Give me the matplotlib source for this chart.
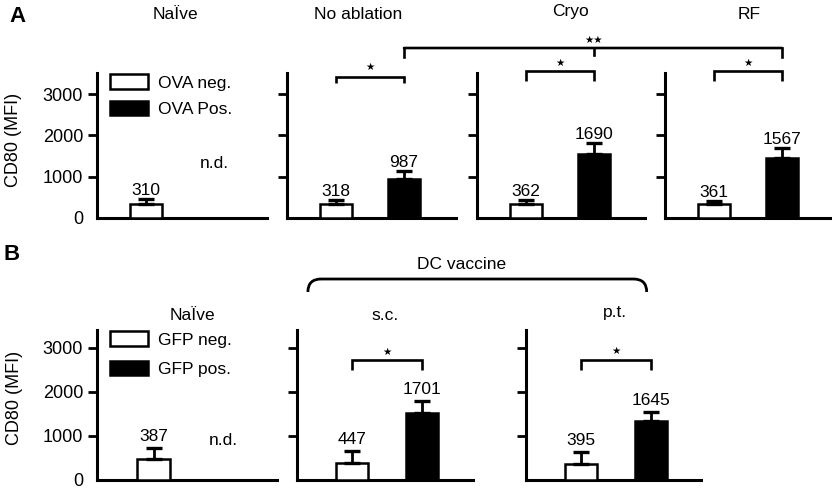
import matplotlib
matplotlib.use('Agg')
import matplotlib.pyplot as plt
from matplotlib.patches import Patch, ConnectionPatch, PathPatch
from matplotlib.path import Path

plt.rcParams['font.family'] = ['Liberation Sans', 'DejaVu Sans']

# ---------------- data ----------------
titles_a = ['NaÏve', 'No ablation', 'Cryo', 'RF']
neg_a = [350, 350, 335, 335]
neg_err_a = [110, 85, 100, 80]
pos_a = [None, 940, 1545, 1445]
pos_err_a = [None, 200, 265, 240]
neg_lab_a = ['310', '318', '362', '361']
pos_lab_a = ['n.d.', '987', '1690', '1567']
legend_a = ['OVA neg.', 'OVA Pos.']

titles_b = ['NaÏve', 's.c.', 'p.t.']
neg_b = [470, 390, 365]
neg_err_b = [265, 275, 280]
pos_b = [None, 1515, 1340]
pos_err_b = [None, 288, 212]
neg_lab_b = ['387', '447', '395']
pos_lab_b = ['n.d.', '1701', '1645']
legend_b = ['GFP neg.', 'GFP pos.']

yticks = [0, 1000, 2000, 3000]
ylabel = 'CD80 (MFI)'

# ---------------- layout (pixels) ----------------
W, H = 832, 491
fig = plt.figure(figsize=(W / 100, H / 100), dpi=100)

LW_SPINE = 2.2
LW_BAR = 1.8
FS = 12.5


def make_axes(l, r, top, base, off, scale, ymax):
    ax = fig.add_axes([l / W, 1 - base / H, (r - l) / W, (base - top) / H])
    ax.set_xlim(-off / scale, (r - l - off) / scale)
    ax.set_ylim(0, ymax)
    for s in ['top', 'right']:
        ax.spines[s].set_visible(False)
    for s in ['left', 'bottom']:
        ax.spines[s].set_linewidth(LW_SPINE)
    ax.set_xticks([])
    ax.set_yticks(yticks)
    ax.tick_params(axis='y', direction='out', length=6.5, width=2.0,
                   pad=3.5, labelsize=13)
    ax.patch.set_visible(False)
    return ax


def draw_bars(ax, neg, nerr, pos, perr, nlab, plab, lab_off, nd_y):
    ax.bar([0], [neg], width=0.47, color='white', edgecolor='black',
           linewidth=LW_BAR, yerr=[[0], [nerr]],
           error_kw=dict(ecolor='black', elinewidth=2.0, capsize=6,
                         capthick=2.4), zorder=3)
    ax.annotate(nlab, (0, neg + nerr), xytext=(0, lab_off),
                textcoords='offset points', ha='center', va='baseline',
                fontsize=FS)
    if pos is not None:
        ax.bar([1], [pos], width=0.47, color='black', edgecolor='black',
               linewidth=LW_BAR, yerr=[[0], [perr]],
               error_kw=dict(ecolor='black', elinewidth=2.0, capsize=6,
                             capthick=2.4), zorder=3)
        ax.annotate(plab, (1, pos + perr), xytext=(0, lab_off),
                    textcoords='offset points', ha='center', va='baseline',
                    fontsize=FS)
    else:
        ax.text(1, nd_y, plab, ha='center', va='center', fontsize=FS)


def bracket(ax, x0, x1, y, yb, ys, stars='★'):
    ax.plot([x0, x0, x1, x1], [yb, y, y, yb], color='black', lw=1.9,
            clip_on=False, solid_joinstyle='miter', solid_capstyle='butt')
    ax.text((x0 + x1) / 2, ys, stars, ha='center', va='center',
            fontsize=7.5, clip_on=False, family='DejaVu Sans')


# ---------- Panel A ----------
A_l = [97, 287, 477, 665]
A_r = [267, 456, 645, 831]
A_top, A_base = 73, 218
A_ppk = 41.33  # px per 1000
A_ymax = (A_base - A_top) / A_ppk * 1000
title_x_a = [0.44, 0.32, 0.66, 0.51]
title_y_a = [4912, 4912, 4985, 4912]
axA = []
for i in range(4):
    ax = make_axes(A_l[i], A_r[i], A_top, A_base, 49, 68, A_ymax)
    axA.append(ax)
    draw_bars(ax, neg_a[i], neg_err_a[i], pos_a[i], pos_err_a[i],
              neg_lab_a[i], pos_lab_a[i], 3.0, 1330)
    ax.text(title_x_a[i], title_y_a[i], titles_a[i], ha='center',
            va='center', fontsize=FS, clip_on=False)
    if i == 0:
        ax.set_yticklabels([str(t) for t in yticks])
        ax.yaxis.get_major_ticks()[0].tick1line.set_visible(False)
        ax.text(-0.49, 0.54, ylabel, transform=ax.transAxes, rotation=90,
                ha='center', va='center', fontsize=13)
        ax.legend(handles=[Patch(facecolor='white', edgecolor='black',
                                 lw=1.8, label=legend_a[0]),
                           Patch(facecolor='black', edgecolor='black',
                                 lw=1.8, label=legend_a[1])],
                  loc='upper left', bbox_to_anchor=(0.076, 0.99),
                  frameon=False, handlelength=2.2, handleheight=0.9,
                  handletextpad=0.55, labelspacing=0.6, borderpad=0,
                  borderaxespad=0, fontsize=FS)
    else:
        ax.set_yticks(yticks[1:])
        ax.set_yticklabels([])

# significance brackets A
bracket(axA[1], 0, 1, 3412, 3266, 3653)
bracket(axA[2], 0, 1, 3557, 3315, 3750)
bracket(axA[3], 0, 1, 3557, 3315, 3750)
# long bracket No ablation -> RF
big_y, big_leg = 4113, 3895
con = ConnectionPatch(xyA=(1, big_y), coordsA=axA[1].transData,
                      xyB=(1, big_y), coordsB=axA[3].transData,
                      color='black', lw=1.9)
con.set_clip_on(False)
fig.add_artist(con)
axA[1].plot([1, 1], [big_leg, big_y], color='black', lw=1.9, clip_on=False)
axA[3].plot([1, 1], [big_leg, big_y], color='black', lw=1.9, clip_on=False)
axA[2].plot([1, 1], [3944, big_y], color='black', lw=1.9, clip_on=False)
axA[2].text(1, 4307, '★★', ha='center', va='center', fontsize=7.5,
            clip_on=False, family='DejaVu Sans')

# ---------- Panel B ----------
B_l = [97, 297, 526]
B_r = [277, 473, 701]
B_off = [56.5, 55, 55]
B_top, B_base = 330, 480
B_ppk = 44.0
B_ymax = (B_base - B_top) / B_ppk * 1000
title_x_b = [0.55, 0.47, 0.49]
title_y_b = [3750, 3750, 3818]
axB = []
for i in range(3):
    ax = make_axes(B_l[i], B_r[i], B_top, B_base, B_off[i], 70, B_ymax)
    axB.append(ax)
    draw_bars(ax, neg_b[i], neg_err_b[i], pos_b[i], pos_err_b[i],
              neg_lab_b[i], pos_lab_b[i], 5.0, 909)
    ax.text(title_x_b[i], title_y_b[i], titles_b[i], ha='center',
            va='center', fontsize=FS, clip_on=False)
    if i == 0:
        ax.set_yticklabels([str(t) for t in yticks])
        ax.yaxis.get_major_ticks()[0].tick1line.set_visible(False)
        ax.text(-0.46, 0.55, ylabel, transform=ax.transAxes, rotation=90,
                ha='center', va='center', fontsize=13)
        ax.legend(handles=[Patch(facecolor='white', edgecolor='black',
                                 lw=1.8, label=legend_b[0]),
                           Patch(facecolor='black', edgecolor='black',
                                 lw=1.8, label=legend_b[1])],
                  loc='upper left', bbox_to_anchor=(0.072, 0.99),
                  frameon=False, handlelength=2.2, handleheight=0.9,
                  handletextpad=0.55, labelspacing=0.75, borderpad=0,
                  borderaxespad=0, fontsize=FS)
    else:
        ax.set_yticks(yticks[1:])
        ax.set_yticklabels([])

bracket(axB[1], 0, 1, 2727, 2500, 2909)
bracket(axB[2], 0, 1, 2727, 2500, 2932)

# DC vaccine curly bracket (in s.c. axes data coords)
x0, x1 = -0.63, 4.21
yb, yt = 4273, 4568
rx = 0.19
verts = [(x0, yb), (x0, yt), (x0 + rx, yt), (x1 - rx, yt), (x1, yt), (x1, yb)]
codes = [Path.MOVETO, Path.CURVE3, Path.CURVE3, Path.LINETO, Path.CURVE3,
         Path.CURVE3]
pp = PathPatch(Path(verts, codes), fill=False, lw=2.0, edgecolor='black',
               transform=axB[1].transData, clip_on=False)
axB[1].add_patch(pp)
axB[1].text(1.56, 4909, 'DC vaccine', ha='center', va='center', fontsize=FS,
            clip_on=False)

# panel letters
fig.text(17 / W, 1 - 17 / H, 'A', ha='center', va='center', fontsize=16,
         fontweight='bold')
fig.text(12 / W, 1 - 255 / H, 'B', ha='center', va='center', fontsize=16,
         fontweight='bold')

fig.savefig('out.png', dpi=100)
